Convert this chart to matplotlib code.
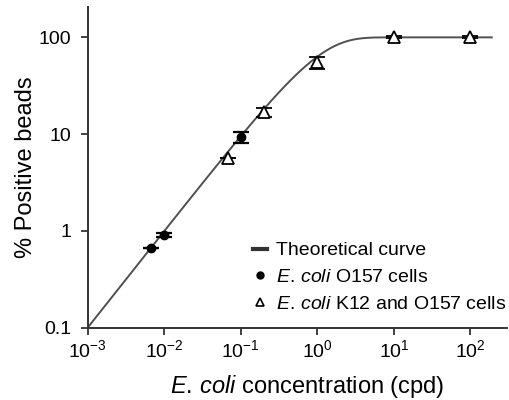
import matplotlib.pyplot as plt
import numpy as np
from matplotlib.lines import Line2D

plt.rcParams['font.family'] = ['Liberation Sans', 'DejaVu Sans']
plt.rcParams['mathtext.fontset'] = 'custom'
plt.rcParams['mathtext.rm'] = 'Liberation Sans'
plt.rcParams['mathtext.it'] = 'Liberation Sans:italic'

# E. coli O157 cells
o157_x = [0.0068, 0.01, 0.1]
o157_y = [0.66, 0.91, 9.3]
o157_err = [0.0, 0.05, 1.2]

# E. coli K12 and O157 cells
mix_x = [0.068, 0.2, 1.0, 10.0, 100.0]
mix_y = [5.6, 16.8, 55.0, 100.0, 100.0]
mix_err = [0.0, 1.8, 7.5, 2.5, 2.5]

xticks = [1e-3, 1e-2, 1e-1, 1e0, 1e1, 1e2]
xticklabels = ['$10^{-3}$', '$10^{-2}$', '$10^{-1}$', '$10^{0}$', '$10^{1}$', '$10^{2}$']
yticks = [0.1, 1, 10, 100]
yticklabels = ['0.1', '1', '10', '100']

ecoli = '$\\mathit{E.\\,coli}$'


def poisson_curve(c):
    # fraction of beads holding at least one cell
    return 100 * (1 - np.exp(-c))


def main():
    fig = plt.figure(figsize=(5.1, 4.0), dpi=100)
    ax = fig.add_axes([0.172, 0.181, 0.822, 0.801])

    cx = np.logspace(-3, np.log10(190), 400)
    ax.plot(cx, poisson_curve(cx), color='#505050', lw=1.4, zorder=2)

    ax.errorbar(o157_x, o157_y, yerr=o157_err, fmt='o', color='black', ms=6,
                capsize=6, capthick=1.6, elinewidth=1.2, zorder=3)
    ax.errorbar(mix_x, mix_y, yerr=mix_err, fmt='^', color='black', mfc='white',
                mec='black', mew=1.3, ms=8, capsize=6, capthick=1.6, elinewidth=1.2,
                zorder=3)

    ax.set_xscale('log')
    ax.set_yscale('log')
    ax.set_xlim(1e-3, 300)
    ax.set_ylim(0.1, 205)
    ax.set_xticks(xticks)
    ax.set_xticklabels(xticklabels)
    ax.set_yticks(yticks)
    ax.set_yticklabels(yticklabels)
    ax.minorticks_off()

    for s in ['top', 'right']:
        ax.spines[s].set_visible(False)
    for s in ['left', 'bottom']:
        ax.spines[s].set_linewidth(1.4)
        ax.spines[s].set_color('#333333')
    ax.tick_params(direction='out', length=5, width=1.3, color='#333333',
                   labelsize=14)
    ax.tick_params(axis='y', pad=7)
    ax.tick_params(axis='x', pad=3)

    ax.set_xlabel(ecoli + ' concentration (cpd)', fontsize=17)
    ax.xaxis.set_label_coords(0.523, -0.142)
    ax.set_ylabel('% Positive beads', fontsize=17, labelpad=1)

    handles = [
        Line2D([], [], color='#333333', lw=3),
        Line2D([], [], ls='none', marker='o', color='black', ms=5),
        Line2D([], [], ls='none', marker='^', color='black', mfc='white', mew=1.2, ms=6),
    ]
    labels = ['Theoretical curve', ecoli + ' O157 cells', ecoli + ' K12 and O157 cells']
    ax.legend(handles, labels, loc='upper left', bbox_to_anchor=(0.395, 0.268),
              frameon=False, fontsize=14, handlelength=0.7, handletextpad=0.48,
              labelspacing=0.48, borderaxespad=0, borderpad=0)

    fig.savefig('out.png', dpi=100)


if __name__ == '__main__':
    main()
